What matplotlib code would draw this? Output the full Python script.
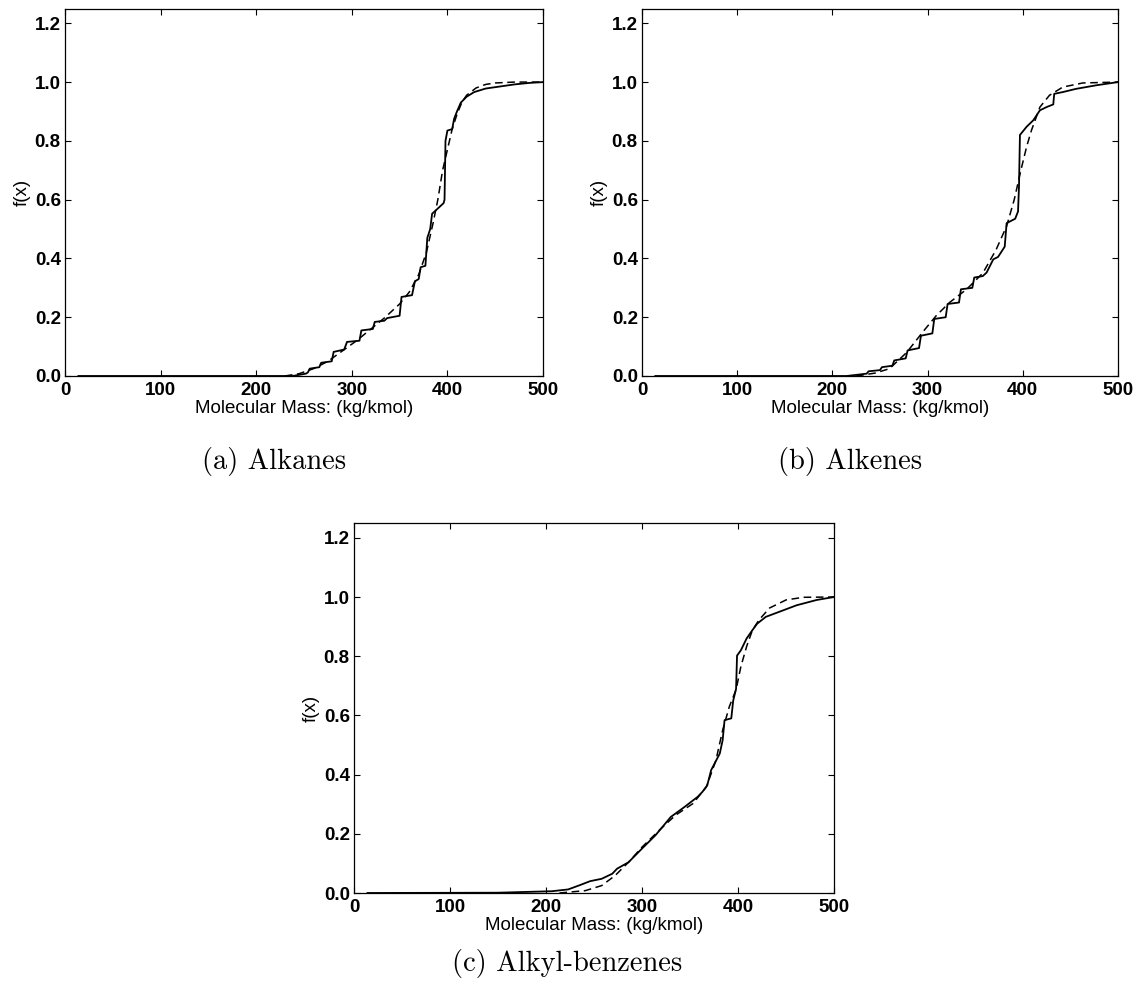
#!/usr/bin/env python3
# cumulative molecular mass distributions for three hydrocarbon families
# solid = data, dashed = fitted distribution
import matplotlib
matplotlib.use('Agg')
import matplotlib.pyplot as pl
from matplotlib import rc

# alkanes
mass_a = [14, 238, 252, 254, 256, 266, 268, 279, 281, 292, 295, 308, 310, 322,
          324, 334, 337, 350, 352, 363, 366, 370, 372, 377, 379, 382, 384, 396,
          397, 398, 400, 405, 407, 410, 414, 420, 428, 440, 455, 470, 485, 500]
cdf_a = [0, 0, 0.008, 0.012, 0.025, 0.03, 0.045, 0.05, 0.082, 0.09, 0.116, 0.12,
         0.155, 0.16, 0.184, 0.188, 0.197, 0.205, 0.269, 0.275, 0.322, 0.33,
         0.37, 0.375, 0.47, 0.5, 0.552, 0.588, 0.6, 0.8, 0.835, 0.84, 0.875,
         0.9, 0.93, 0.95, 0.966, 0.978, 0.985, 0.992, 0.997, 1.0]
fit_mass_a = [230, 245, 260, 275, 290, 305, 320, 335, 350, 360, 370, 378, 385,
              390, 395, 400, 405, 410, 415, 420, 430, 440, 450, 470, 500]
fit_a = [0, 0.008, 0.025, 0.05, 0.085, 0.12, 0.16, 0.2, 0.245, 0.285, 0.345,
         0.42, 0.52, 0.6, 0.7, 0.77, 0.84, 0.89, 0.93, 0.955, 0.98, 0.992,
         0.997, 1.0, 1.0]

# alkenes
mass_b = [14, 215, 236, 238, 250, 252, 263, 265, 277, 279, 291, 293, 305, 307,
          319, 321, 333, 335, 347, 349, 358, 362, 369, 374, 381, 383, 392, 395,
          396, 397, 404, 411, 418, 425, 432, 433, 442, 456, 477, 500]
cdf_b = [0, 0, 0.008, 0.016, 0.02, 0.03, 0.035, 0.053, 0.06, 0.087, 0.095,
         0.137, 0.145, 0.194, 0.2, 0.245, 0.25, 0.295, 0.3, 0.335, 0.34, 0.352,
         0.397, 0.405, 0.44, 0.52, 0.535, 0.56, 0.645, 0.82, 0.848, 0.87,
         0.904, 0.915, 0.924, 0.96, 0.966, 0.977, 0.989, 1.0]
fit_mass_b = [225, 245, 260, 278, 295, 309, 323, 341, 358, 372, 383, 391, 398,
              404, 409, 418, 428, 442, 463, 500]
fit_b = [0, 0.01, 0.025, 0.08, 0.15, 0.205, 0.25, 0.295, 0.35, 0.43, 0.51, 0.6,
         0.7, 0.78, 0.835, 0.915, 0.955, 0.983, 0.997, 1.0]

# alkyl-benzenes
mass_c = [14, 150, 206, 223, 234, 246, 258, 269, 274, 286, 300, 314, 330, 344,
          358, 363, 368, 372, 381, 384, 386, 393, 395, 398, 399, 403, 409, 415,
          420, 429, 443, 461, 482, 500]
cdf_c = [0, 0.001, 0.006, 0.012, 0.025, 0.04, 0.048, 0.065, 0.082, 0.104, 0.15,
         0.195, 0.257, 0.29, 0.325, 0.342, 0.364, 0.415, 0.471, 0.516, 0.584,
         0.59, 0.65, 0.69, 0.802, 0.82, 0.86, 0.888, 0.91, 0.933, 0.95, 0.972,
         0.99, 1.0]
fit_mass_c = [214, 241, 258, 272, 286, 300, 318, 335, 353, 367, 377, 384, 391,
              398, 403, 409, 415, 422, 433, 450, 468, 500]
fit_c = [0, 0.008, 0.025, 0.059, 0.104, 0.155, 0.212, 0.263, 0.302, 0.358,
         0.448, 0.55, 0.63, 0.687, 0.765, 0.833, 0.888, 0.923, 0.963, 0.99,
         0.999, 1.0]

captions = ['(a) Alkanes', '(b) Alkenes', '(c) Alkyl-benzenes']
xticks = [0, 100, 200, 300, 400, 500]
yticks = [0.0, 0.2, 0.4, 0.6, 0.8, 1.0, 1.2]

rc('font', **{'family': 'sans-serif',
              'sans-serif': ['Liberation Sans', 'DejaVu Sans'], 'size': 13})

fig = pl.figure(figsize=(11.42, 9.90), dpi=100)
W, H = 1142., 990.

def panel(left, top, right, bottom):
    # axes box given in pixels from the top left corner
    return fig.add_axes([left / W, 1 - bottom / H,
                         (right - left) / W, (bottom - top) / H])

axes = [panel(65, 8.6, 543, 376),
        panel(642, 8.6, 1118, 376),
        panel(354, 523, 834, 893)]
data = [(mass_a, cdf_a, fit_mass_a, fit_a),
        (mass_b, cdf_b, fit_mass_b, fit_b),
        (mass_c, cdf_c, fit_mass_c, fit_c)]

for ax, (m, f, fm, ff) in zip(axes, data):
    ax.plot(m, f, 'k-', lw=1.3)
    ax.plot(fm, ff, 'k--', lw=1.1, dashes=(5, 3))
    ax.set_xlim(0, 500)
    ax.set_ylim(0, 1.25)
    ax.set_xticks(xticks)
    ax.set_yticks(yticks)
    ax.set_xticklabels([str(t) for t in xticks], fontweight='bold')
    ax.set_yticklabels(['%.1f' % t for t in yticks], fontweight='bold')
    ax.tick_params(direction='in', top=True, right=True, length=4,
                   width=0.8, labelsize=13.5)
    ax.tick_params(axis='x', pad=4)
    ax.tick_params(axis='y', pad=3)
    for s in ax.spines.values():
        s.set_linewidth(0.9)
    ax.set_xlabel('Molecular Mass: (kg/kmol)', fontsize=13.5, labelpad=1)
    ax.set_ylabel('f(x)', fontsize=13.5, labelpad=3)

# subfigure captions
cap_pos = [(274, 462), (850, 462), (567, 963)]
for (cx, cy), txt in zip(cap_pos, captions):
    fig.text(cx / W, 1 - cy / H, txt, family='cmr10', fontsize=20.5,
             ha='center', va='center')

fig.savefig('out.png', dpi=100)
